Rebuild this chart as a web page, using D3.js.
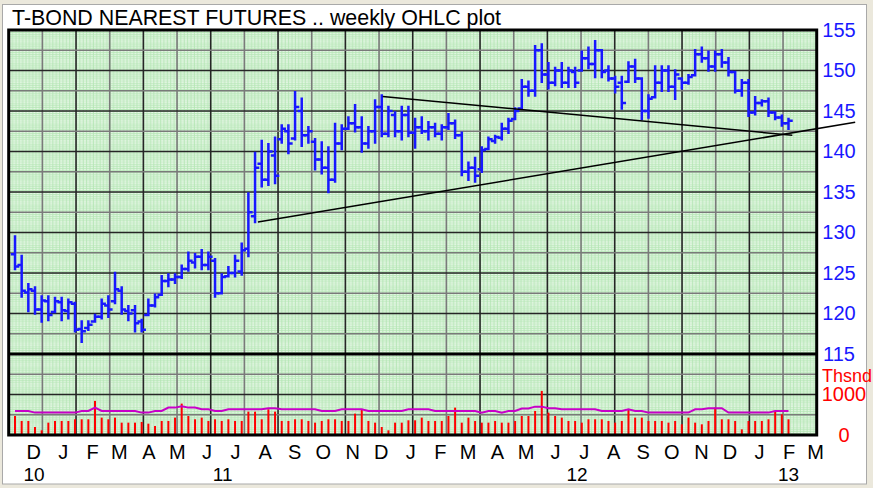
<!DOCTYPE html>
<html>
<head>
<meta charset="utf-8">
<script src="https://cdn.jsdelivr.net/npm/d3@7/dist/d3.min.js"></script>
<style>
  body { margin: 0; background: #ebe8dc; }
  svg { display: block; }
</style>
</head>
<body>
<svg></svg>
<script>
const WIDTH = 873;
const HEIGHT = 488;
const FRAME_LEFT = 8.7;
const FRAME_RIGHT = 816.7;
const FRAME_TOP = 30;
const FRAME_BOTTOM = 435;
const COLS = 24;
const ROWS = 20;

// weekly bars, Friday dates
const firstWeek = new Date(2010, 10, 12);
const lastWeek = new Date(2013, 1, 1);

const opens = [
  127.3,126.0,122.6,122.8,120.5,121.5,120.2,121.4,120.3,121.2,
  118.1,118.2,119.0,119.6,121.0,121.5,122.8,120.3,120.4,119.0,
  119.8,121.0,122.3,124.0,124.2,124.5,125.5,126.3,127.0,126.0,
  126.5,122.5,124.6,125.0,125.2,128.0,132.0,138.5,136.5,139.5,
  141.5,142.5,141.6,145.0,142.0,141.2,139.0,138.0,136.5,141.0,
  142.8,143.5,143.0,141.0,142.5,145.5,142.2,144.5,142.5,144.5,
  142.3,143.0,142.5,143.0,142.2,143.0,143.5,142.0,137.5,138.0,
  137.8,140.3,141.3,141.7,142.8,144.0,145.3,148.0,147.5,152.5,
  149.5,148.5,150.0,148.5,149.8,150.0,151.5,150.8,152.5,150.0,
  149.0,148.5,148.6,150.5,149.0,145.0,146.7,148.5,150.0,148.0,
  149.0,148.5,149.4,152.0,151.5,150.5,152.0,151.0,149.8,147.5,
  148.5,144.8,146.0,146.2,144.8,144.2,143.5
];
const highs = [
  129.5,127.1,123.6,123.2,122.1,122.1,121.9,121.9,121.7,121.3,
  119.0,119.0,119.8,121.7,122.1,125.0,123.2,120.9,120.9,119.2,
  121.7,122.3,124.6,124.8,124.8,125.9,127.5,127.3,127.8,127.5,
  126.7,124.8,125.7,127.1,128.6,134.8,139.8,141.3,140.9,141.7,
  143.2,143.2,147.3,146.5,143.0,141.5,141.1,140.5,143.4,143.2,
  144.2,145.7,144.2,143.0,146.3,146.9,145.5,144.8,145.5,145.5,
  144.0,144.2,143.6,143.4,143.2,144.6,143.8,142.3,138.6,139.2,
  140.5,141.7,141.9,143.4,144.0,145.3,148.8,148.6,153.0,153.2,
  150.9,150.3,150.9,150.3,150.3,152.3,152.8,153.6,152.5,150.5,
  149.2,149.2,151.0,151.3,149.0,146.9,150.5,150.5,150.5,150.0,
  149.0,149.4,152.5,152.8,152.3,152.3,152.5,151.5,149.8,148.8,
  148.8,146.7,146.3,146.5,144.8,144.4,144.0
];
const lows = [
  125.5,122.1,120.3,120.0,119.0,119.2,120.2,119.2,119.4,117.8,
  116.5,118.0,119.0,119.4,119.6,121.3,120.0,119.2,117.8,117.8,
  119.8,120.9,122.3,123.4,123.8,124.4,125.3,125.7,125.5,125.5,
  122.1,122.5,124.6,124.6,124.8,127.1,131.3,135.7,135.9,136.1,
  141.1,139.8,141.5,140.7,141.1,137.8,137.3,135.0,136.3,140.3,
  142.8,142.5,140.0,140.5,141.1,141.9,141.9,141.9,141.5,141.9,
  140.5,142.3,141.5,141.9,141.5,142.8,141.7,137.1,136.5,136.3,
  137.5,140.3,141.1,141.5,142.3,144.0,145.3,146.9,146.9,148.6,
  147.8,148.2,148.0,148.0,148.0,150.0,150.3,149.2,149.2,148.8,
  147.3,145.3,148.6,148.6,144.0,144.2,146.7,147.5,147.5,146.5,
  147.8,148.4,149.4,151.1,150.0,150.0,150.5,149.4,147.3,146.9,
  144.4,144.6,145.7,144.4,144.0,143.2,142.8
];
const closes = [
  125.8,122.8,123.0,120.5,121.6,119.8,121.5,120.4,121.4,118.0,
  117.8,118.6,119.6,121.2,120.5,123.0,120.5,120.0,118.8,118.0,
  121.0,122.0,124.0,124.2,124.5,125.5,126.5,127.0,126.0,127.0,
  122.5,124.5,125.0,126.5,127.8,132.5,138.0,136.5,140.0,137.0,
  142.8,141.0,145.5,142.0,142.5,139.0,138.0,136.5,141.0,142.8,
  143.5,143.0,141.0,142.5,145.5,142.2,145.0,142.5,144.5,142.3,
  143.0,142.5,143.0,142.2,143.0,143.5,142.0,137.5,138.0,137.0,
  140.2,141.5,141.8,142.8,143.8,145.0,148.0,147.5,152.5,149.5,
  148.5,150.0,148.5,150.0,148.5,151.5,150.8,152.5,149.8,149.0,
  148.0,146.0,150.5,149.0,145.0,146.5,148.5,150.0,148.0,149.5,
  148.5,149.2,152.0,151.5,150.5,152.0,151.0,149.8,147.5,148.5,
  144.8,146.0,146.2,144.8,144.2,143.5,143.8
];
// volume in thousands
const volumes = [
  470,347,347,198,116,305,347,347,347,388,
  388,388,842,429,388,429,305,305,305,322,
  280,223,347,347,429,775,470,388,429,347,
  388,347,388,347,347,577,577,388,635,577,
  347,347,388,388,347,305,347,388,388,347,
  347,528,635,347,305,198,116,305,305,363,
  363,429,347,347,347,470,676,305,429,347,
  305,305,347,305,305,347,470,470,594,1089,
  553,470,429,347,347,305,388,388,388,347,
  305,347,635,429,429,347,347,347,305,347,
  264,429,305,264,347,676,388,388,347,140,
  347,347,347,388,594,512,388
];
const volumeAvg = [
  594,594,594,553,553,553,553,553,553,553,
  594,594,676,594,594,594,594,594,594,553,
  553,594,594,676,676,709,676,676,635,635,
  594,594,635,635,635,635,635,635,660,660,
  635,635,635,635,635,635,594,594,594,635,
  635,635,635,594,594,594,594,594,594,635,
  635,635,635,594,594,594,594,594,594,594,
  553,594,594,553,594,594,655,655,700,700,
  660,660,635,635,635,635,635,635,594,594,
  594,594,635,594,594,553,553,553,553,553,
  553,553,635,635,660,660,660,553,553,553,
  553,553,553,553,594,594,594
];

const priceTicks = [155, 150, 145, 140, 135, 130, 125, 120, 115];
const volumeTicks = [1000, 0];
const yearLabels = [
  ['2010-12-02', '10'],
  ['2011-06-18', '11'],
  ['2012-06-24', '12'],
  ['2013-02-01', '13']
];
const trendLines = [
  { from: ['2011-07-25', 131.3], to: ['2013-04-12', 143.6] },
  { from: ['2011-12-03', 146.8], to: ['2013-02-05', 142.0] }
];

const parseDay = d3.timeParse('%Y-%m-%d');
const weeks = d3.timeFriday.range(firstWeek, d3.timeDay.offset(lastWeek, 1));
const bars = weeks.map((d, i) => ({
  date: d, o: opens[i], h: highs[i], l: lows[i], c: closes[i],
  v: volumes[i], va: volumeAvg[i]
}));

const svg = d3.select('svg')
  .attr('width', WIDTH)
  .attr('height', HEIGHT)
  .attr('font-family', '"Liberation Sans", Arial, sans-serif');

// window chrome
svg.append('rect')
  .attr('width', WIDTH).attr('height', HEIGHT)
  .attr('fill', '#ebe8dc');
svg.append('rect')
  .attr('x', 2.5).attr('y', 4.5)
  .attr('width', 864).attr('height', 479.5)
  .attr('fill', '#fff')
  .attr('stroke', '#a9a9a9');

const colW = (FRAME_RIGHT - FRAME_LEFT) / COLS;
const rowH = (FRAME_BOTTOM - FRAME_TOP) / ROWS;
const SPLIT = FRAME_TOP + 16 * rowH;

const xScale = d3.scaleTime()
  .domain([firstWeek, lastWeek])
  .range([15, 788.5]);

const yScale = d3.scaleLinear()
  .domain([115, 155])
  .range([SPLIT, FRAME_TOP]);

const vScale = d3.scaleLinear()
  .domain([0, 1000])
  .range([FRAME_BOTTOM, FRAME_BOTTOM - 2 * rowH]);

// green graph-paper fill
const defs = svg.append('defs');
const pat = defs.append('pattern')
  .attr('id', 'paper')
  .attr('patternUnits', 'userSpaceOnUse')
  .attr('x', FRAME_LEFT).attr('y', FRAME_TOP)
  .attr('width', colW).attr('height', rowH);
pat.append('rect')
  .attr('width', colW).attr('height', rowH)
  .attr('fill', '#b4e6b4');
for (let i = 0; i < 10; i++) {
  for (let j = 0; j < 10; j++) {
    pat.append('rect')
      .attr('x', i * colW / 10 + 0.9)
      .attr('y', j * rowH / 10 + 1)
      .attr('width', colW / 10 - 0.9)
      .attr('height', rowH / 10 - 1)
      .attr('fill', j === 4 || j === 5 ? '#ffffff' : '#eefaee');
  }
}
svg.append('rect')
  .attr('x', FRAME_LEFT).attr('y', FRAME_TOP)
  .attr('width', FRAME_RIGHT - FRAME_LEFT)
  .attr('height', FRAME_BOTTOM - FRAME_TOP)
  .attr('fill', 'url(#paper)');

// grid lines
const grid = svg.append('g');
grid.selectAll('line.v')
  .data(d3.range(1, COLS))
  .enter()
  .append('line')
  .attr('x1', k => FRAME_LEFT + k * colW)
  .attr('x2', k => FRAME_LEFT + k * colW)
  .attr('y1', FRAME_TOP)
  .attr('y2', FRAME_BOTTOM)
  .attr('stroke', k => k % 2 === 0 ? '#262626' : '#7a7a7a')
  .attr('stroke-width', 1.6);
grid.selectAll('line.h')
  .data(d3.range(1, ROWS))
  .enter()
  .append('line')
  .attr('x1', FRAME_LEFT)
  .attr('x2', FRAME_RIGHT)
  .attr('y1', k => FRAME_TOP + k * rowH)
  .attr('y2', k => FRAME_TOP + k * rowH)
  .attr('stroke', k => k % 2 === 0 ? '#262626' : '#7a7a7a')
  .attr('stroke-width', 1.6);

// volume bars
svg.append('g')
  .selectAll('line')
  .data(bars)
  .enter()
  .append('line')
  .attr('x1', d => xScale(d.date))
  .attr('x2', d => xScale(d.date))
  .attr('y1', vScale(0))
  .attr('y2', d => vScale(d.v))
  .attr('stroke', '#ff0000')
  .attr('stroke-width', 2);

// volume average line
svg.append('path')
  .datum(bars)
  .attr('fill', 'none')
  .attr('stroke', '#c800c8')
  .attr('stroke-width', 2)
  .attr('d', d3.line().x(d => xScale(d.date)).y(d => vScale(d.va)));

// OHLC bars
const ohlc = svg.append('g')
  .attr('stroke', '#1818ff')
  .attr('stroke-width', 2.5)
  .attr('stroke-linecap', 'square');
ohlc.selectAll('path')
  .data(bars)
  .enter()
  .append('path')
  .attr('fill', 'none')
  .attr('d', d => {
    const x = xScale(d.date);
    return `M${x},${yScale(d.h)}V${yScale(d.l)}` +
      `M${x - 3},${yScale(d.o)}H${x}` +
      `M${x},${yScale(d.c)}H${x + 3}`;
  });

// trend lines
svg.append('g')
  .selectAll('line')
  .data(trendLines)
  .enter()
  .append('line')
  .attr('x1', d => xScale(parseDay(d.from[0])))
  .attr('y1', d => yScale(d.from[1]))
  .attr('x2', d => xScale(parseDay(d.to[0])))
  .attr('y2', d => yScale(d.to[1]))
  .attr('stroke', '#000')
  .attr('stroke-width', 1.5);

// frame and panel divider
svg.append('rect')
  .attr('x', FRAME_LEFT).attr('y', FRAME_TOP)
  .attr('width', FRAME_RIGHT - FRAME_LEFT)
  .attr('height', FRAME_BOTTOM - FRAME_TOP)
  .attr('fill', 'none')
  .attr('stroke', '#000')
  .attr('stroke-width', 3);
svg.append('line')
  .attr('x1', FRAME_LEFT).attr('x2', FRAME_RIGHT)
  .attr('y1', SPLIT).attr('y2', SPLIT)
  .attr('stroke', '#000')
  .attr('stroke-width', 3);

// title
svg.append('text')
  .attr('x', 12)
  .attr('y', 25)
  .attr('font-size', 22)
  .attr('textLength', 489)
  .attr('lengthAdjust', 'spacingAndGlyphs')
  .attr('fill', '#000')
  .text('T-BOND NEAREST FUTURES .. weekly OHLC plot');

// price axis (right)
const yAxis = d3.axisRight(yScale)
  .tickValues(priceTicks)
  .tickSize(0)
  .tickPadding(0);
const yAxisG = svg.append('g')
  .attr('transform', `translate(839, 0)`)
  .call(yAxis);
yAxisG.select('.domain').remove();
yAxisG.selectAll('text')
  .attr('text-anchor', 'middle')
  .attr('font-size', 20)
  .attr('fill', '#1818ff');

// volume axis (right)
const vAxis = d3.axisRight(vScale)
  .tickValues(volumeTicks)
  .tickSize(0)
  .tickPadding(0)
  .tickFormat(d3.format('d'));
const vAxisG = svg.append('g')
  .attr('transform', `translate(844, 0)`)
  .call(vAxis);
vAxisG.select('.domain').remove();
vAxisG.selectAll('text')
  .attr('text-anchor', 'middle')
  .attr('font-size', 20)
  .attr('fill', '#ff0000');
svg.append('text')
  .attr('x', 822)
  .attr('y', FRAME_TOP + 17 * rowH + 1.5)
  .attr('dy', '0.32em')
  .attr('font-size', 18)
  .attr('fill', '#ff0000')
  .text('Thsnd');

// month axis
const months = d3.timeMonth.range(new Date(2010, 11, 1), new Date(2013, 2, 2));
const xAxis = d3.axisBottom(xScale)
  .tickValues(months)
  .tickSize(0)
  .tickPadding(0)
  .tickFormat(d => d3.timeFormat('%b')(d)[0]);
const xAxisG = svg.append('g')
  .attr('transform', `translate(0, 459)`)
  .call(xAxis);
xAxisG.select('.domain').remove();
xAxisG.selectAll('text')
  .attr('dy', 0)
  .attr('font-size', 20)
  .attr('fill', '#000');

svg.append('g')
  .selectAll('text')
  .data(yearLabels)
  .enter()
  .append('text')
  .attr('x', d => xScale(parseDay(d[0])))
  .attr('y', 481)
  .attr('text-anchor', 'middle')
  .attr('font-size', 19)
  .attr('fill', '#000')
  .text(d => d[1]);
</script>
</body>
</html>
